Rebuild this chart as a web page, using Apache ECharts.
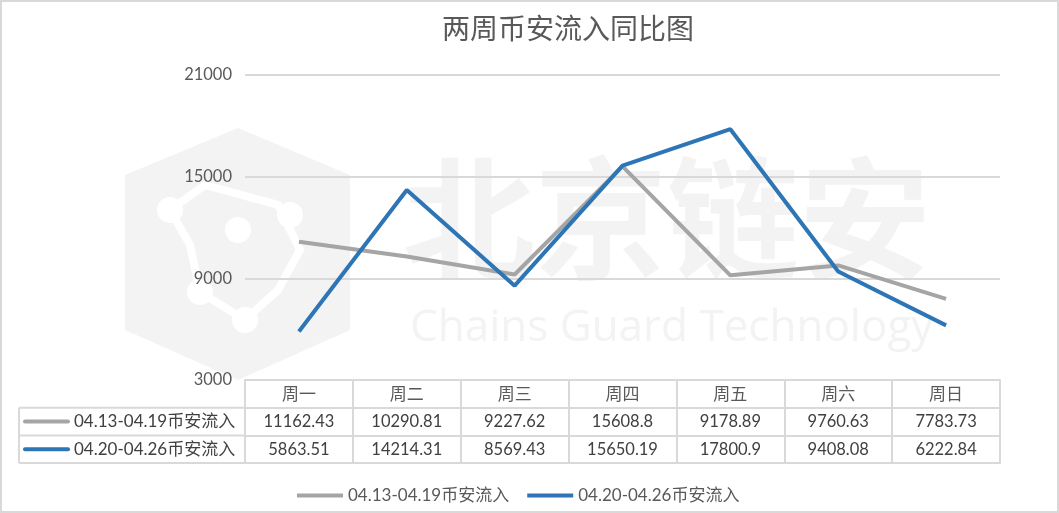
<!DOCTYPE html>
<html><head><meta charset="utf-8">
<script src="https://cdn.jsdelivr.net/npm/echarts@6/dist/echarts.min.js"></script>
<style>html,body{margin:0;padding:0;background:#fff}#c{width:1059px;height:513px}</style>
</head><body><div id="c"></div>
<script>
const categories = ['周一','周二','周三','周四','周五','周六','周日'];
const seriesNames = ['04.13-04.19币安流入','04.20-04.26币安流入'];
const week1 = [11162.43, 10290.81, 9227.62, 15608.8, 9178.89, 9760.63, 7783.73];
const week2 = [5863.51, 14214.31, 8569.43, 15650.19, 17800.9, 9408.08, 6222.84];
const yTicks = [3000, 9000, 15000, 21000];
const colors = ['#a5a5a5', '#2e75b6'];

const FONT = "Lato, 'Noto Sans CJK SC', sans-serif";
const GRID = {left: 245, right: 59, top: 75, height: 305};
const ROW = 27.7;
const borderCol = '#d9d9d9';

function fmt(arr){ return (v, i) => String(arr[i]); }

const chart = echarts.init(document.getElementById('c'));
const gridBottomY = GRID.top + GRID.height;

const wm = '#f3f3f3';
const graphics = [
  {type:'rect', shape:{x:1,y:1,width:1057,height:511}, style:{fill:null, stroke:borderCol, lineWidth:2}, z:100, silent:true},
  // watermark
  {type:'polygon', shape:{points:[[238,128],[350,175],[350,330],[238,380],[125,330],[125,175]]}, style:{fill:wm}, z:-10, silent:true},
  {type:'polyline', shape:{points:[[170,210],[205,185],[278,205],[300,250],[278,290],[245,320],[200,292],[190,245],[170,210]]}, style:{stroke:'#fff', lineWidth:8, fill:null}, z:-9, silent:true},
  {type:'circle', shape:{cx:170,cy:210,r:13}, style:{fill:'#fff'}, z:-9, silent:true},
  {type:'circle', shape:{cx:290,cy:215,r:13}, style:{fill:'#fff'}, z:-9, silent:true},
  {type:'circle', shape:{cx:238,cy:230,r:13}, style:{fill:'#fff'}, z:-9, silent:true},
  {type:'circle', shape:{cx:200,cy:292,r:13}, style:{fill:'#fff'}, z:-9, silent:true},
  {type:'circle', shape:{cx:245,cy:320,r:13}, style:{fill:'#fff'}, z:-9, silent:true},
  {type:'text', left:403, top:152, style:{text:'北京链安', font:"bold 132px 'Noto Sans CJK SC'", fill:wm}, z:-10, silent:true},
  {type:'text', left:410, top:306, style:{text:'Chains Guard Technology', font:"44px 'Open Sans', sans-serif", fill:wm}, z:-10, silent:true}
];
// left part of table
[1,2,3].forEach(k => {
  graphics.push({type:'line', shape:{x1:19, y1:gridBottomY + ROW*k, x2:GRID.left, y2:gridBottomY + ROW*k}, style:{stroke:borderCol, lineWidth:2}, silent:true});
});
graphics.push({type:'line', shape:{x1:19, y1:gridBottomY + ROW, x2:19, y2:gridBottomY + ROW*3}, style:{stroke:borderCol, lineWidth:2}, silent:true});
seriesNames.forEach((n, k) => {
  const cy = gridBottomY + ROW*(k+1.5);
  graphics.push({type:'line', shape:{x1:25, y1:cy, x2:68, y2:cy}, style:{stroke:colors[k], lineWidth:4, lineCap:'round'}, silent:true});
  graphics.push({type:'text', x:74, y:cy, style:{text:n, font:"17px " + FONT, fill:'#404040', textVerticalAlign:'middle'}, silent:true});
});

const option = {
  animation: false,
  title: {text:'两周币安流入同比图', left:437, top:9, textStyle:{fontSize:28, fontWeight:'normal', color:'#595959', fontFamily:"'Noto Sans CJK SC'"}},
  legend: {
    left: 292, top: 482, itemGap: 18, itemWidth: 46, itemHeight: 4, icon: 'rect',
    data: seriesNames,
    textStyle: {fontSize:17, color:'#595959', fontFamily: FONT}
  },
  grid: {left: GRID.left, right: GRID.right, top: GRID.top, height: GRID.height},
  xAxis: [
    {type:'category', data:categories, position:'bottom', boundaryGap:true,
     axisLine:{show:true, lineStyle:{color:borderCol, width:2}},
     axisTick:{show:true, length: ROW*3, lineStyle:{color:borderCol, width:2}},
     axisLabel:{margin:5, fontSize:17, color:'#595959', fontFamily:"'Noto Sans CJK SC'"}},
    {type:'category', data:categories, position:'bottom', offset:ROW,
     axisLine:{show:true, lineStyle:{color:borderCol, width:2}}, axisTick:{show:false},
     axisLabel:{margin:6, fontSize:16.5, color:'#404040', fontFamily:FONT, formatter: fmt(week1)}},
    {type:'category', data:categories, position:'bottom', offset:ROW*2,
     axisLine:{show:true, lineStyle:{color:borderCol, width:2}}, axisTick:{show:false},
     axisLabel:{margin:6, fontSize:16.5, color:'#404040', fontFamily:FONT, formatter: fmt(week2)}},
    {type:'category', data:categories, position:'bottom', offset:ROW*3,
     axisLine:{show:true, lineStyle:{color:borderCol, width:2}}, axisTick:{show:false}, axisLabel:{show:false}}
  ],
  yAxis: {
    type:'value', min:yTicks[0], max:yTicks[yTicks.length-1], interval:yTicks[1]-yTicks[0],
    axisLine:{show:false}, axisTick:{show:false},
    axisLabel:{margin:13, fontSize:16.5, color:'#595959', fontFamily:FONT, formatter: v => String(v)},
    splitLine:{lineStyle:{color:borderCol, width:2}}
  },
  graphic: graphics,
  series: [
    {name:seriesNames[0], type:'line', data:week1, showSymbol:false, symbol:'none', lineStyle:{width:4, color:colors[0]}, itemStyle:{color:colors[0]}, z:3},
    {name:seriesNames[1], type:'line', data:week2, showSymbol:false, symbol:'none', lineStyle:{width:4, color:colors[1]}, itemStyle:{color:colors[1]}, z:4}
  ]
};
chart.setOption(option);
</script></body></html>
